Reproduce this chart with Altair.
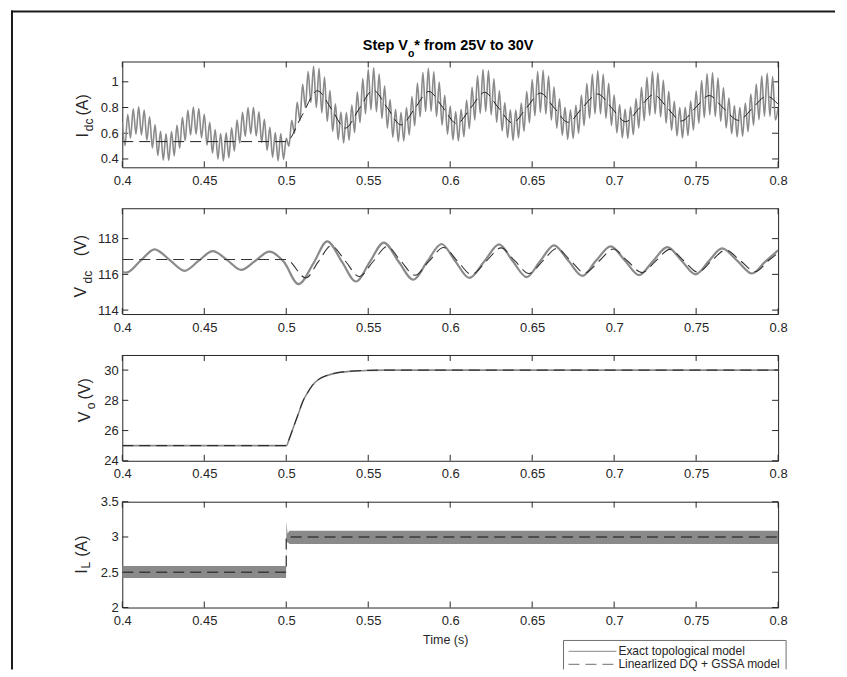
import altair as alt
import numpy as np
import pandas as pd

# ------------------------------------------------------------------ data
X_TICKS = [0.4, 0.45, 0.5, 0.55, 0.6, 0.65, 0.7, 0.75, 0.8]
IDC_TICKS = [0.4, 0.6, 0.8, 1.0]
VDC_TICKS = [114, 116, 118]
VO_TICKS = [24, 26, 28, 30]
IL_TICKS = [2, 2.5, 3, 3.5]

IDC_DOMAIN = [0.335, 1.158]
VDC_DOMAIN = [113.78, 119.7]
VO_DOMAIN = [24, 31]
IL_DOMAIN = [2, 3.5]

# Exact model I_dc, read at the ripple peaks / troughs (one sample every 1/600 s)
IDC_EXACT_START = 0.4
IDC_EXACT_STEP = 1 / 600
IDC_EXACT = [
    0.683, 0.505, 0.746, 0.562, 0.791, 0.593, 0.805, 0.587, 0.780, 0.547,
    0.728, 0.486, 0.665, 0.427, 0.615, 0.390, 0.595, 0.389, 0.613, 0.424,
    0.662, 0.483, 0.724, 0.544, 0.778, 0.586, 0.804, 0.593, 0.793, 0.564,
    0.748, 0.508, 0.686, 0.446, 0.629, 0.399, 0.598, 0.385, 0.603, 0.409,
    0.642, 0.461, 0.703, 0.524, 0.762, 0.575, 0.799, 0.595, 0.801, 0.578,
    0.766, 0.529, 0.708, 0.467, 0.647, 0.412, 0.605, 0.386, 0.597, 0.397,
    0.560, 0.500, 0.700, 0.600, 0.840, 0.700, 0.980, 0.800, 1.080, 0.840,
    1.120, 0.800,
    1.106, 0.759, 1.038, 0.693, 0.933, 0.614, 0.829, 0.549,
    0.765, 0.525, 0.761, 0.546, 0.820, 0.605, 0.920, 0.683, 1.025, 0.751,
    1.095, 0.781, 1.110, 0.768, 1.061, 0.715, 0.967, 0.640, 0.862, 0.570,
    0.786, 0.534, 0.762, 0.540, 0.800, 0.586, 0.886, 0.658, 0.991, 0.728,
    1.073, 0.769, 1.106, 0.771, 1.078, 0.731, 0.998, 0.664, 0.896, 0.593,
    0.811, 0.549, 0.769, 0.540, 0.787, 0.573, 0.858, 0.635, 0.957, 0.704,
    1.046, 0.754, 1.095, 0.769, 1.087, 0.743, 1.024, 0.685, 0.930, 0.617,
    0.839, 0.565, 0.782, 0.544, 0.781, 0.563, 0.835, 0.615, 0.925, 0.682,
    1.017, 0.736, 1.079, 0.762, 1.090, 0.750, 1.045, 0.703, 0.960, 0.640,
    0.868, 0.584, 0.801, 0.553, 0.782, 0.559, 0.817, 0.599, 0.896, 0.660,
    0.987, 0.717, 1.059, 0.751, 1.086, 0.751, 1.059, 0.717, 0.988, 0.660,
    0.898, 0.603, 0.823, 0.565, 0.788, 0.559, 0.806, 0.588, 0.870, 0.640,
    0.957, 0.697, 1.035, 0.738, 1.077, 0.750, 1.068, 0.727, 1.011, 0.678,
    0.927, 0.623, 0.848, 0.580, 0.800, 0.564, 0.801, 0.581, 0.850, 0.624,
    0.929, 0.678, 1.009, 0.722, 1.063, 0.743, 1.070, 0.731, 1.029, 0.693,
    0.953, 0.641, 0.874, 0.596, 0.816, 0.571, 0.801, 0.577, 0.834, 0.611,
    0.904, 0.661, 0.983, 0.706, 1.044, 0.733, 1.066, 0.732, 1.041, 0.703,
    0.800,
]

IDC_DQ_T = [0.4, 0.5, 0.5095, 0.519, 0.5275, 0.536, 0.5445, 0.553, 0.5615, 0.570,
            0.5785, 0.587, 0.5955, 0.604, 0.6125, 0.621, 0.6295, 0.638, 0.6465, 0.655,
            0.6635, 0.672, 0.6805, 0.690, 0.6985, 0.707, 0.7155, 0.724, 0.7325, 0.741,
            0.7495, 0.758, 0.7665, 0.776, 0.7845, 0.793, 0.8]
IDC_DQ = [0.535, 0.535, 0.735, 0.93, 0.79, 0.64, 0.79, 0.935, 0.80, 0.665,
          0.795, 0.925, 0.80, 0.675, 0.797, 0.918, 0.797, 0.68, 0.797, 0.912,
          0.797, 0.685, 0.797, 0.905, 0.797, 0.69, 0.797, 0.90, 0.797, 0.695,
          0.797, 0.893, 0.797, 0.70, 0.797, 0.888, 0.825]

VDC_EXACT_T = [0.400, 0.4025, 0.411, 0.4197, 0.429, 0.438, 0.4465, 0.4552, 0.464, 0.4725,
               0.481, 0.4897, 0.4985, 0.5075, 0.5165, 0.525, 0.534, 0.5425, 0.551, 0.5595,
               0.5685, 0.5775, 0.586, 0.5947, 0.603, 0.6116, 0.621, 0.6298, 0.638, 0.6466,
               0.655, 0.6633, 0.672, 0.6806, 0.689, 0.6979, 0.7065, 0.7151, 0.724, 0.7324,
               0.741, 0.7496, 0.758, 0.7658, 0.775, 0.7841, 0.792, 0.800]
VDC_EXACT = [116.15, 116.1, 116.75, 117.4, 116.8, 116.2, 116.75, 117.3, 116.8, 116.25,
             116.75, 117.27, 116.7, 115.45, 116.6, 117.85, 116.7, 115.6, 116.7, 117.78,
             116.72, 115.7, 116.72, 117.7, 116.75, 115.8, 116.75, 117.68, 116.76, 115.85,
             116.76, 117.62, 116.77, 115.92, 116.77, 117.57, 116.78, 115.96, 116.78, 117.52,
             116.78, 116.0, 116.77, 117.45, 116.77, 116.05, 116.7, 117.35]

VDC_DQ_T = [0.4, 0.5, 0.512, 0.5195, 0.5275, 0.536, 0.5445, 0.553, 0.5615, 0.570,
            0.5785, 0.587, 0.596, 0.6045, 0.613, 0.622, 0.631, 0.6395, 0.648, 0.6565,
            0.665, 0.6735, 0.682, 0.691, 0.6995, 0.708, 0.717, 0.7255, 0.734, 0.7425,
            0.751, 0.7595, 0.768, 0.777, 0.786, 0.794, 0.8]
VDC_DQ = [116.83, 116.83, 115.8, 116.7, 117.6, 116.75, 115.88, 116.72, 117.55, 116.73,
          115.95, 116.73, 117.5, 116.74, 116.0, 116.74, 117.48, 116.75, 116.05, 116.75,
          117.45, 116.76, 116.08, 116.76, 117.42, 116.76, 116.1, 116.76, 117.4, 116.76,
          116.12, 116.76, 117.37, 116.76, 116.15, 116.76, 117.2]

VO_T = [0.4, 0.5, 0.502, 0.504, 0.506, 0.508, 0.510, 0.513, 0.516, 0.520,
        0.525, 0.530, 0.540, 0.550, 0.560, 0.8]
VO_EXACT = [25.0, 25.0, 25.5, 26.1, 26.7, 27.3, 27.9, 28.5, 29.0, 29.4,
            29.65, 29.8, 29.93, 29.98, 30.0, 30.0]
VO_DQ = [25.0, 25.0, 25.5, 26.1, 26.7, 27.3, 27.9, 28.5, 29.0, 29.4,
         29.65, 29.8, 29.93, 29.98, 30.0, 30.0]

IL_T = [0.4, 0.4999, 0.5001, 0.5008, 0.502, 0.8]
IL_LOW = [2.42, 2.42, 2.90, 2.93, 2.90, 2.90]
IL_HIGH = [2.59, 2.59, 3.22, 3.05, 3.09, 3.09]
IL_DQ_T = [0.4, 0.5, 0.5, 0.8]
IL_DQ = [2.5, 2.5, 3.0, 3.0]

LEGEND_LABELS = ["Exact topological model", "Linearlized DQ + GSSA model"]

# ------------------------------------------------------------------ style
FONT = "Liberation Sans"
INK = "#262626"
GRAY = "#8a8a8a"
DQ_COLOR = "#1e1e1e"
W, H = 657, 106
DASH = [11, 6]
ONE = pd.DataFrame({"k": [0]})


def df_xy(t, y):
    return pd.DataFrame({"t": t, "y": y, "i": list(range(len(t)))})


def X(field="t"):
    return alt.X(f"{field}:Q", scale=alt.Scale(domain=[0.4, 0.8], nice=False, zero=False),
                 axis=alt.Axis(values=X_TICKS, format="~g", title=None, labelPadding=7))


def Y(field, domain, ticks):
    return alt.Y(f"{field}:Q", scale=alt.Scale(domain=domain, nice=False, zero=False),
                 axis=alt.Axis(values=ticks, format="~g", title=None, labelPadding=4))


def line(df, domain, ticks, color, width, dash=None, interp="monotone"):
    kw = dict(color=color, strokeWidth=width, interpolate=interp, clip=True)
    if dash:
        kw["strokeDash"] = dash
    return alt.Chart(df).mark_line(**kw).encode(x=X(), y=Y("y", domain, ticks), order="i:Q")


def tick_layers(domain, ticks):
    xt = pd.DataFrame({"t": X_TICKS})
    yt = pd.DataFrame({"v": ticks})
    st = dict(color=INK, strokeWidth=1)
    return [
        alt.Chart(xt).mark_rule(**st).encode(x=X(), y=alt.value(0), y2=alt.value(6)),
        alt.Chart(xt).mark_rule(**st).encode(x=X(), y=alt.value(H - 6), y2=alt.value(H)),
        alt.Chart(yt).mark_rule(**st).encode(y=Y("v", domain, ticks), x=alt.value(0), x2=alt.value(6)),
        alt.Chart(yt).mark_rule(**st).encode(y=Y("v", domain, ticks), x=alt.value(W - 6), x2=alt.value(W)),
    ]


def label(text, x, y, size, angle=0, align="center", baseline="middle", weight="normal", color=INK):
    return alt.Chart(ONE).mark_text(text=text, font=FONT, fontSize=size, angle=angle, align=align,
                                    baseline=baseline, fontWeight=weight, color=color).encode(
        x=alt.value(x), y=alt.value(y))


def ytitle(parts):
    return [label(t, x, y, s, angle=270) for (t, x, y, s) in parts]


# ------------------------------------------------------------------ panel 1: I_dc
idc_t = list(np.round(IDC_EXACT_START + np.arange(len(IDC_EXACT)) * IDC_EXACT_STEP, 6))
p1_layers = tick_layers(IDC_DOMAIN, IDC_TICKS) + [
    line(df_xy(idc_t, IDC_EXACT), IDC_DOMAIN, IDC_TICKS, GRAY, 1.6),
    line(df_xy(IDC_DQ_T, IDC_DQ), IDC_DOMAIN, IDC_TICKS, DQ_COLOR, 1.0, DASH),
] + ytitle([("I", -39, 74, 16), ("dc", -33.5, 63.5, 12), ("(A)", -39, 43.5, 16)]) + [
    label("Step V", 241, -11.5, 14.5, align="left", baseline="alphabetic", weight="bold", color="#000"),
    label("o", 286.2, -5, 10.5, align="left", baseline="alphabetic", weight="bold", color="#000"),
    label("* from 25V to 30V", 292.6, -11.5, 14.5, align="left", baseline="alphabetic", weight="bold", color="#000"),
    # outer figure frame
    alt.Chart(ONE).mark_rule(color="#1a1a1a", strokeWidth=2).encode(
        x=alt.value(-110.5), y=alt.value(-51), y2=alt.value(609)),
    alt.Chart(ONE).mark_rule(color="#1a1a1a", strokeWidth=2).encode(
        x=alt.value(-111.5), x2=alt.value(714), y=alt.value(-50)),
]
p1 = alt.layer(*p1_layers).properties(width=W, height=H)

# ------------------------------------------------------------------ panel 2: V_dc
p2_layers = tick_layers(VDC_DOMAIN, VDC_TICKS) + [
    line(df_xy(VDC_EXACT_T, VDC_EXACT), VDC_DOMAIN, VDC_TICKS, GRAY, 2.2),
    line(df_xy(VDC_DQ_T, VDC_DQ), VDC_DOMAIN, VDC_TICKS, "#333333", 1.1, DASH),
] + ytitle([("V", -41.5, 84, 16), ("dc", -34.5, 69, 12), ("(V)", -41.5, 37.5, 16)])
p2 = alt.layer(*p2_layers).properties(width=W, height=H)

# ------------------------------------------------------------------ panel 3: V_o
p3_layers = tick_layers(VO_DOMAIN, VO_TICKS) + [
    line(df_xy(VO_T, VO_EXACT), VO_DOMAIN, VO_TICKS, GRAY, 1.6),
    line(df_xy(VO_T, VO_DQ), VO_DOMAIN, VO_TICKS, DQ_COLOR, 1.0, DASH),
] + ytitle([("V", -37.5, 62, 16), ("o", -31, 51, 12), ("(V)", -37.5, 34, 16)])
p3 = alt.layer(*p3_layers).properties(width=W, height=H)

# ------------------------------------------------------------------ panel 4: I_L
il_band = pd.DataFrame({"t": IL_T, "lo": IL_LOW, "hi": IL_HIGH})
leg_x0, leg_x1, leg_top, leg_bot = 442, 665, 139, 168
p4_layers = tick_layers(IL_DOMAIN, IL_TICKS) + [
    alt.Chart(il_band).mark_area(color=GRAY, interpolate="linear", clip=True).encode(
        x=X(), y=Y("lo", IL_DOMAIN, IL_TICKS), y2="hi:Q"),
    line(df_xy(IL_DQ_T, IL_DQ), IL_DOMAIN, IL_TICKS, "#3a3a3a", 1.3, DASH, interp="linear"),
] + ytitle([("I", -40, 70, 16), ("L", -36, 63.5, 12), ("(A)", -40, 44.5, 16)]) + [
    label("Time (s)", 324, 139, 12.5),
    # legend (box, samples, labels)
    alt.Chart(ONE).mark_rect(fill="white").encode(
        x=alt.value(leg_x0), x2=alt.value(leg_x1), y=alt.value(leg_top), y2=alt.value(leg_bot)),
    alt.Chart(ONE).mark_rule(color="#6e6e6e", strokeWidth=1).encode(
        x=alt.value(leg_x0), x2=alt.value(leg_x1), y=alt.value(leg_top)),
    alt.Chart(ONE).mark_rule(color="#6e6e6e", strokeWidth=1).encode(
        x=alt.value(leg_x0), y=alt.value(leg_top), y2=alt.value(leg_bot)),
    alt.Chart(ONE).mark_rule(color="#6e6e6e", strokeWidth=1).encode(
        x=alt.value(leg_x1), y=alt.value(leg_top), y2=alt.value(leg_bot)),
    alt.Chart(ONE).mark_rule(color="#a0a0a0", strokeWidth=1.3).encode(
        x=alt.value(447), x2=alt.value(495), y=alt.value(150)),
    alt.Chart(ONE).mark_rule(color="#8c8c8c", strokeWidth=1.3, strokeDash=DASH).encode(
        x=alt.value(447), x2=alt.value(495), y=alt.value(163)),
    label(LEGEND_LABELS[0], 497, 154, 12, align="left", baseline="alphabetic"),
    label(LEGEND_LABELS[1], 497, 167, 12, align="left", baseline="alphabetic"),
]
p4 = alt.layer(*p4_layers).properties(width=W, height=H)

chart = alt.vconcat(p1, p2, p3, p4, spacing=41, bounds="flush").properties(
    padding={"left": 1.5, "top": 0, "right": 2, "bottom": 0},
    background="white",
).configure_view(
    stroke=INK, strokeWidth=1
).configure_axis(
    ticks=False, tickSize=0, domain=False, grid=False,
    labelFont=FONT, labelFontSize=13, labelColor=INK,
    labelFlush=False, labelOverlap=False,
)

chart.save("out.html", embed_options={"renderer": "svg", "actions": False})
